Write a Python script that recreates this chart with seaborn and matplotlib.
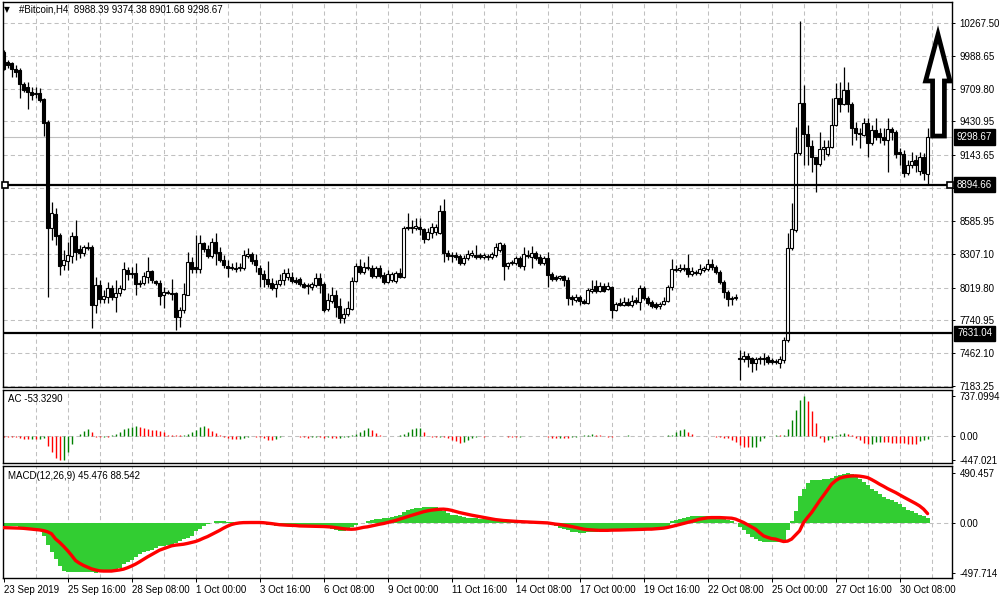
import numpy as np
import matplotlib
matplotlib.use("Agg")
import matplotlib.pyplot as plt
import seaborn as sns
from matplotlib.patches import Polygon
from matplotlib.transforms import blended_transform_factory

# ---- H4 candles, #Bitcoin, 23 Sep 2019 00:00 .. 31 Oct 2019 ----
opens = [
    10021, 9936, 9928, 9876, 9868, 9749, 9724, 9681, 9664, 9673,
    9622, 9426, 8526, 8645, 8466, 8211, 8245, 8288, 8458, 8347,
    8313, 8356, 8364, 7872, 8041, 7923, 7940, 8016, 7940, 7974,
    8007, 8169, 8143, 8143, 8058, 8058, 8109, 8160, 8075, 8058,
    7957, 7982, 7974, 7974, 7770, 7829, 7957, 8237, 8194, 8177,
    8398, 8347, 8288, 8407, 8322, 8254, 8203, 8194, 8186, 8186,
    8186, 8288, 8305, 8254, 8186, 8135, 8092, 8058, 8016, 8050,
    8084, 8109, 8109, 8084, 8092, 8050, 8041, 8024, 8041, 8101,
    8050, 7838, 7906, 7957, 7863, 7761, 7795, 7838, 8075, 8203,
    8152, 8194, 8186, 8118, 8186, 8126, 8067, 8084, 8075, 8143,
    8109, 8534, 8526, 8526, 8534, 8517, 8432, 8483, 8492, 8483,
    8670, 8313, 8296, 8296, 8288, 8228, 8271, 8296, 8296, 8296,
    8279, 8288, 8279, 8296, 8339, 8381, 8203, 8228, 8228, 8271,
    8203, 8296, 8279, 8313, 8279, 8228, 8271, 8135, 8109, 8101,
    8118, 8084, 7940, 7914, 7940, 7906, 7889, 7990, 8033, 7990,
    8033, 8007, 8024, 7829, 7889, 7872, 7897, 7872, 7914, 7897,
    8016, 7931, 7897, 7880, 7863, 7880, 7906, 8024, 8169, 8169,
    8177, 8186, 8135, 8152, 8143, 8169, 8177, 8220, 8194, 8152,
    8067, 7982, 7923, 7931, 7413, 7413, 7438, 7421, 7379, 7413,
    7421, 7430, 7404, 7396, 7379, 7404, 7574, 8356, 8509, 9163,
    9588, 9324, 9222, 9129, 9070, 9197, 9154, 9214, 9401, 9630,
    9579, 9698, 9579, 9375, 9333, 9316, 9418, 9248, 9358, 9333,
    9299, 9273, 9367, 9341, 9171, 9154, 8993, 9061, 9103, 9010,
    9129, 8988.39,
]
highs = [
    10038, 9953, 9936, 9910, 9885, 9766, 9766, 9724, 9724, 9715,
    9630, 9443, 8747, 8696, 8483, 8339, 8407, 8492, 8594, 8381,
    8381, 8407, 8381, 8109, 8084, 7999, 8067, 8041, 8084, 8041,
    8237, 8194, 8194, 8228, 8084, 8152, 8279, 8169, 8084, 8084,
    8024, 7999, 8092, 7982, 7855, 8058, 8322, 8279, 8466, 8466,
    8407, 8381, 8441, 8483, 8364, 8296, 8254, 8228, 8237, 8228,
    8339, 8356, 8322, 8305, 8211, 8169, 8245, 8101, 8084, 8135,
    8177, 8186, 8152, 8109, 8109, 8067, 8058, 8067, 8143, 8143,
    8067, 7974, 8024, 7999, 7931, 7846, 7906, 8109, 8228, 8262,
    8237, 8288, 8211, 8203, 8211, 8152, 8169, 8152, 8160, 8186,
    8543, 8653, 8594, 8611, 8611, 8526, 8526, 8568, 8560, 8721,
    8772, 8339, 8322, 8322, 8305, 8296, 8339, 8339, 8381, 8313,
    8313, 8305, 8322, 8398, 8407, 8398, 8237, 8254, 8288, 8288,
    8364, 8339, 8373, 8330, 8305, 8288, 8322, 8152, 8126, 8126,
    8126, 8109, 7957, 7965, 7957, 7923, 8016, 8084, 8084, 8067,
    8058, 8067, 8033, 7897, 7931, 7940, 7931, 7957, 7940, 8041,
    8033, 7948, 7914, 7897, 7897, 7940, 8041, 8262, 8211, 8220,
    8220, 8305, 8194, 8169, 8220, 8203, 8262, 8262, 8211, 8169,
    8084, 7999, 7948, 7965, 7489, 7481, 7464, 7430, 7430, 7438,
    7464, 7447, 7421, 7413, 7438, 7600, 8483, 8738, 9384, 10284,
    9741, 9401, 9273, 9129, 9341, 9273, 9273, 9630, 9758, 9766,
    9894, 9766, 9596, 9426, 9375, 9460, 9460, 9401, 9460, 9375,
    9375, 9460, 9384, 9358, 9205, 9188, 9103, 9171, 9146, 9171,
    9163, 9374.38,
]
lows = [
    9868, 9885, 9809, 9809, 9630, 9681, 9537, 9613, 9630, 9596,
    9307, 7940, 8424, 8381, 8126, 8169, 8169, 8228, 8254, 8271,
    8288, 8339, 7676, 7804, 7889, 7889, 7889, 7914, 7812, 7948,
    7999, 8084, 8101, 7957, 8024, 8041, 8058, 8058, 8041, 7872,
    7846, 7965, 7914, 7659, 7685, 7804, 7957, 8143, 8143, 8143,
    8322, 8271, 8271, 8211, 8237, 8186, 8109, 8169, 8152, 8160,
    8169, 8271, 8220, 8152, 8024, 8024, 8024, 7999, 7940, 8033,
    8041, 8084, 8058, 8050, 8033, 8016, 7965, 7999, 8024, 7974,
    7812, 7821, 7889, 7770, 7719, 7719, 7778, 7829, 8067, 8135,
    8135, 8169, 8101, 8101, 8101, 8050, 8058, 8067, 8058, 8101,
    8101, 8509, 8483, 8509, 8466, 8398, 8424, 8441, 8466, 8475,
    8237, 8254, 8237, 8254, 8211, 8211, 8254, 8279, 8262, 8262,
    8262, 8254, 8262, 8279, 8322, 8084, 8177, 8211, 8211, 8186,
    8169, 8271, 8186, 8254, 8211, 8211, 8024, 8075, 8075, 8084,
    8033, 7872, 7872, 7897, 7872, 7880, 7880, 7974, 7974, 7982,
    7982, 7999, 7761, 7821, 7863, 7863, 7863, 7855, 7880, 7829,
    7914, 7872, 7846, 7838, 7838, 7872, 7897, 7999, 8152, 8152,
    8160, 8109, 8118, 8126, 8126, 8152, 8160, 8169, 8135, 8050,
    7931, 7863, 7872, 7914, 7234, 7387, 7345, 7302, 7319, 7370,
    7362, 7370, 7370, 7370, 7336, 7379, 7557, 8339, 8492, 9146,
    9061, 9061, 9001, 8832, 9052, 9103, 9137, 9205, 9392, 9511,
    9571, 9511, 9231, 9273, 9205, 9307, 9129, 9231, 9273, 9248,
    9231, 9001, 9273, 9120, 9061, 8955, 8976, 9035, 9001, 8980,
    8934, 8901.68,
]
closes = [
    9876, 9910, 9876, 9851, 9749, 9698, 9681, 9656, 9673, 9613,
    9418, 8526, 8653, 8458, 8203, 8254, 8296, 8458, 8322, 8313,
    8364, 8364, 7872, 8041, 7923, 7948, 8016, 7940, 7974, 8016,
    8177, 8135, 8135, 8050, 8050, 8118, 8160, 8084, 8058, 7948,
    7982, 7974, 7965, 7770, 7829, 7965, 8237, 8177, 8177, 8398,
    8347, 8288, 8407, 8313, 8254, 8211, 8186, 8186, 8177, 8194,
    8296, 8305, 8245, 8211, 8135, 8092, 8050, 8016, 8050, 8084,
    8143, 8143, 8075, 8067, 8050, 8024, 8033, 8050, 8101, 8041,
    7829, 7914, 7957, 7855, 7761, 7795, 7846, 8075, 8203, 8152,
    8194, 8186, 8118, 8186, 8118, 8067, 8135, 8135, 8143, 8109,
    8526, 8526, 8534, 8543, 8517, 8432, 8492, 8534, 8534, 8670,
    8313, 8288, 8288, 8279, 8228, 8271, 8305, 8313, 8279, 8279,
    8296, 8279, 8305, 8364, 8398, 8203, 8228, 8237, 8271, 8203,
    8305, 8288, 8313, 8271, 8228, 8271, 8126, 8092, 8092, 8118,
    8084, 7931, 7923, 7940, 7906, 7889, 7999, 8007, 7990, 8033,
    7990, 8033, 7829, 7880, 7872, 7897, 7872, 7906, 7897, 8016,
    7931, 7889, 7863, 7855, 7880, 7906, 8024, 8177, 8177, 8186,
    8186, 8135, 8160, 8143, 8177, 8186, 8220, 8194, 8152, 8067,
    7982, 7923, 7931, 7940, 7421, 7438, 7413, 7379, 7413, 7421,
    7413, 7387, 7387, 7387, 7413, 7574, 8356, 8517, 9163, 9588,
    9324, 9222, 9129, 9070, 9197, 9214, 9214, 9401, 9630, 9579,
    9698, 9579, 9375, 9333, 9324, 9418, 9248, 9358, 9299, 9299,
    9273, 9367, 9341, 9154, 9154, 8993, 9061, 9095, 9061, 9129,
    8993, 9298.67,
]

# ---- Accelerator Oscillator ----
ac_values = [
    -10, -12, -15, -25, -40, -55, -60, -55, -58, -50,
    -45, -190, -300, -400, -447.021, -445, -300, -140, 5, 45,
    90, 125, 70, -10, -15, -12, -20, 10, 35, 70,
    125, 155, 170, 178, 160, 145, 125, 115, 105, 90,
    70, 25, 18, 16, 12, 18, 35, 65, 115, 170,
    178, 140, 90, 50, 22, -10, -45, -58, -62, -58,
    -35, -18, -6, -12, -22, -45, -68, -80, -58, -12,
    -6, -6, 0, -6, -12, -18, -28, -22, -18, -22,
    -28, -22, -28, -40, -35, -22, -12, 12, 35, 70,
    110, 138, 115, 52, 12, 6, -6, 6, 0, 12,
    30, 70, 125, 150, 155, 70, -6, -12, -18, -12,
    -18, -35, -70, -98, -120, -115, -80, -45, -12, -6,
    -12, -6, 0, -6, -6, -6, -12, -18, -22, -18,
    -6, -3, -2, -2, -1, -6, -18, -28, -35, -28,
    -35, -35, -22, -18, -6, 12, 22, 28, 22, 12,
    -6, -12, -12, -6, -6, 6, 9, 6, 0, -3,
    -2, 0, 2, 3, 0, 6, 12, 22, 70, 115,
    120, 80, 28, 6, 0, -3, -6, -9, -12, -18,
    -28, -45, -70, -115, -170, -200, -210, -205, -195, -90,
    -28, 0, 6, 12, 12, 18, 125, 300, 480, 650,
    737.0994, 640, 450, 240, -45, -110, -80, -28, 12, 28,
    52, 45, 18, -28, -80, -125, -150, -138, -115, -110,
    -115, -115, -120, -125, -130, -135, -138, -140, -142, -100,
    -68, -53.329,
]

# ---- MACD(12,26,9): main histogram and signal line ----
macd_main = [
    -34, -34, -36, -39, -45, -51, -56, -67, -79, -84,
    -135, -219, -298, -365, -433, -478, -490, -492, -492, -492,
    -490, -490, -496, -497.714, -497, -497, -496, -492, -483, -450,
    -416, -388, -368, -343, -318, -298, -281, -269, -253, -236,
    -230, -225, -219, -208, -185, -169, -152, -136, -87, -62,
    -37, -17, 0, 11, 13, 11, 6, 2, 0, 0,
    0, 0, -2, -6, -11, -17, -25, -28, -31, -31,
    -28, -28, -28, -28, -28, -28, -28, -28, -31, -34,
    -45, -56, -62, -73, -84, -84, -67, -45, -22, -6,
    0, 11, 28, 34, 39, 43, 45, 51, 62, 76,
    107, 124, 133, 141, 149, 152, 155, 155, 152, 141,
    112, 96, 79, 70, 62, 54, 47, 45, 43, 39,
    37, 34, 31, 28, 22, 17, 13, 13, 11, 9,
    9, 6, 2, 0, -3, -6, -11, -22, -39, -51,
    -62, -76, -90, -99, -102, -101, -96, -92, -90, -88,
    -84, -81, -79, -76, -74, -73, -71, -70, -67, -65,
    -62, -58, -56, -54, -51, -43, -34, 17, 28, 39,
    49, 56, 62, 65, 67, 67, 67, 67, 65, 58,
    45, 28, 17, 0, -49, -79, -116, -140, -165, -180,
    -189, -191, -193, -193, -191, -180, -76, 11, 112, 262,
    337, 393, 421, 427, 427, 429, 433, 444, 461, 472,
    480, 490.457, 480, 455, 430, 400, 370, 337, 309, 287,
    258, 236, 219, 202, 180, 152, 129, 112, 96, 79,
    67, 45.476,
]
macd_signal = [
    -51, -52, -53, -54, -56, -58, -62, -65, -70, -74,
    -81, -92, -112, -163, -197, -236, -279, -326, -378, -405,
    -427, -444, -461, -472, -481, -483, -483, -483, -478, -472,
    -464, -450, -433, -414, -391, -366, -342, -320, -298, -275,
    -261, -247, -232, -225, -220, -216, -208, -198, -189, -174,
    -156, -140, -120, -100, -79, -56, -36, -20, -10, -4,
    -1, 0, 0, 0, 0, -2, -6, -11, -17, -22,
    -25, -27, -28, -30, -34, -35, -36, -37, -38, -39,
    -40, -43, -45, -51, -56, -62, -66, -67, -65, -56,
    -48, -43, -34, -25, -17, -10, 0, 9, 20, 33,
    45, 58, 71, 83, 94, 107, 116, 123, 128, 132,
    133, 129, 121, 110, 99, 90, 81, 73, 66, 58,
    51, 43, 36, 29, 24, 20, 17, 13, 11, 9,
    7, 4, 3, 2, 0, -2, -4, -10, -16, -20,
    -26, -33, -40, -49, -58, -66, -71, -74, -76, -78,
    -78, -78, -76, -76, -75, -74, -73, -72, -70, -69,
    -67, -66, -66, -63, -60, -56, -49, -40, -30, -20,
    -10, 0, 11, 22, 33, 40, 47, 49, 49, 49,
    47, 45, 43, 34, 17, 0, -22, -45, -66, -101,
    -133, -148, -160, -165, -178, -189, -185, -165, -124, -83,
    0, 51, 99, 157, 216, 270, 326, 381, 416, 441,
    452, 459, 463, 464, 461, 455, 447, 427, 405, 381,
    360, 337, 318, 298, 275, 253, 232, 211, 189, 165,
    133, 88.542,
]

date_labels = ["23 Sep 2019", "25 Sep 16:00", "28 Sep 08:00", "1 Oct 00:00",
               "3 Oct 16:00", "6 Oct 08:00", "9 Oct 00:00", "11 Oct 16:00",
               "14 Oct 08:00", "17 Oct 00:00", "19 Oct 16:00", "22 Oct 08:00",
               "25 Oct 00:00", "27 Oct 16:00", "30 Oct 08:00"]
price_ticks = [10267.50, 9988.65, 9709.80, 9430.95, 9143.65, 8864.80,
               8585.95, 8307.10, 8019.80, 7740.95, 7462.10, 7183.25]
ac_ticks = [737.0994, 0.0, -447.021]
ac_tick_labels = ["737.0994", "0.00", "-447.021"]
macd_ticks = [490.457, 0.0, -497.714]
macd_tick_labels = ["490.457", "0.00", "-497.714"]
resistance = 8894.66
support = 7631.04
last_price = 9298.67
title = "#Bitcoin,H4  8988.39 9374.38 8901.68 9298.67"

# ---- style ----
sns.set_style("white")
plt.rcParams['font.family'] = ['Liberation Sans', 'DejaVu Sans']
plt.rcParams['font.size'] = 7

GRID = '#c0c0c0'
W, H = 1000, 600
fig = plt.figure(figsize=(10, 6), dpi=100)


def px_axes(x0, y0, x1, y1):
    return fig.add_axes([x0 / W, 1 - y1 / H, (x1 - x0) / W, (y1 - y0) / H])


ax_p = px_axes(3, 2, 952, 387)
ax_ac = px_axes(3, 390, 952, 463)
ax_m = px_axes(3, 466, 952, 578)

x = np.arange(len(closes))
o = np.array(opens, dtype=float)
h = np.array(highs, dtype=float)
l = np.array(lows, dtype=float)
c = np.array(closes, dtype=float)
XLIM = (-0.125, 237.1)

for ax in (ax_p, ax_ac, ax_m):
    ax.set_xlim(*XLIM)
    for s in ax.spines.values():
        s.set_color('black')
        s.set_linewidth(1.0)
    for gx in range(8, 233, 8):
        ax.axvline(gx, color=GRID, lw=0.75, ls=(0, (4, 3)), zorder=0)
    ax.yaxis.tick_right()
    ax.tick_params(axis='y', direction='out', length=2.5, width=0.7,
                   pad=3, labelsize=7, colors='black')
    ax.tick_params(axis='x', bottom=False, labelbottom=False)

# ---- price panel ----
ax_p.set_ylim(7174.7, 10446)
for py in price_ticks:
    ax_p.axhline(py, color=GRID, lw=0.75, ls=(0, (4, 3)), zorder=0)
ax_p.set_yticks(price_ticks)
ax_p.set_yticklabels([f"{v:.2f}" for v in price_ticks])

ax_p.axhline(last_price, color=GRID, lw=0.8, zorder=1)
ax_p.vlines(x, l, h, color='black', lw=0.9, zorder=2)
body_low = np.minimum(o, c)
body_h = np.maximum(np.abs(c - o), 2)
fills = np.where(c >= o, 'white', 'black')
ax_p.bar(x, body_h, bottom=body_low, width=0.75, color=fills,
         edgecolor='black', linewidth=0.8, zorder=3)

for lvl in (resistance, support):
    ax_p.axhline(lvl, color='black', lw=1.6, zorder=4)
bt = blended_transform_factory(ax_p.transAxes, ax_p.transData)
ax_p.plot([0.002, 0.998], [resistance, resistance], ls='none', marker='s',
          ms=4, mfc='white', mec='black', mew=1.2, transform=bt,
          zorder=5, clip_on=False)

# hand-drawn "up" arrow annotation
arrow_pts = [(232.25, 9307), (232.25, 9775), (230.5, 9775), (233.6, 10170),
             (236.6, 9775), (235.2, 9775), (235.2, 9307)]
ax_p.add_patch(Polygon(arrow_pts, closed=True, facecolor='white',
                       edgecolor='black', lw=3.4, joinstyle='miter', zorder=6))

for val in (last_price, resistance, support):
    ax_p.text(1.0 + 5 / 949, val, f"{val:.2f}", transform=bt, ha='left',
              va='center', color='white', fontsize=7, zorder=10,
              bbox=dict(boxstyle='square,pad=0.28', fc='black', ec='black'))

# ---- Accelerator Oscillator panel ----
ax_ac.set_ylim(-494, 841)
ax_ac.axhline(0, color=GRID, lw=0.75, ls=(0, (4, 3)), zorder=0)
ac_arr = np.array(ac_values, dtype=float)
ac_up = np.r_[False, ac_arr[1:] > ac_arr[:-1]]
ac_colors = np.where(ac_up, '#008000', '#ff0000')
ax_ac.vlines(x, 0, ac_arr, colors=ac_colors, lw=1.0, zorder=2)
ax_ac.set_yticks(ac_ticks)
ax_ac.set_yticklabels(ac_tick_labels)

# ---- MACD panel ----
ax_m.set_ylim(-552, 562)
ax_m.axhline(0, color=GRID, lw=0.75, ls=(0, (4, 3)), zorder=0)
ax_m.bar(x, macd_main, width=1.0, color='#32cd32', linewidth=0, zorder=1)
sns.lineplot(x=x, y=macd_signal, ax=ax_m, color='#ff0000', lw=2.4,
             legend=False, zorder=3)
ax_m.set_ylabel('')
ax_m.set_yticks(macd_ticks)
ax_m.set_yticklabels(macd_tick_labels)
ax_m.set_xlim(*XLIM)
ax_m.set_xticks([16 * i for i in range(len(date_labels))])
ax_m.set_xticklabels(date_labels)
ax_m.tick_params(axis='x', bottom=True, labelbottom=True, direction='out',
                 length=3, width=0.7, pad=2, labelsize=7, colors='black')
for lbl in ax_m.get_xticklabels():
    lbl.set_ha('left')

# ---- panel captions ----
fig.text(4 / W, 1 - 9.5 / H, "\u25bc", fontsize=5.5, family='DejaVu Sans',
         ha='left', va='center', color='black')
fig.text(19 / W, 1 - 9.5 / H, title, fontsize=7, ha='left', va='center',
         color='black')
fig.text(8 / W, 1 - 399 / H, "AC -53.3290", fontsize=7, ha='left',
         va='center', color='black')
fig.text(8 / W, 1 - 476 / H, "MACD(12,26,9) 45.476 88.542", fontsize=7,
         ha='left', va='center', color='black')

fig.savefig('out.png', dpi=100, facecolor='white')
